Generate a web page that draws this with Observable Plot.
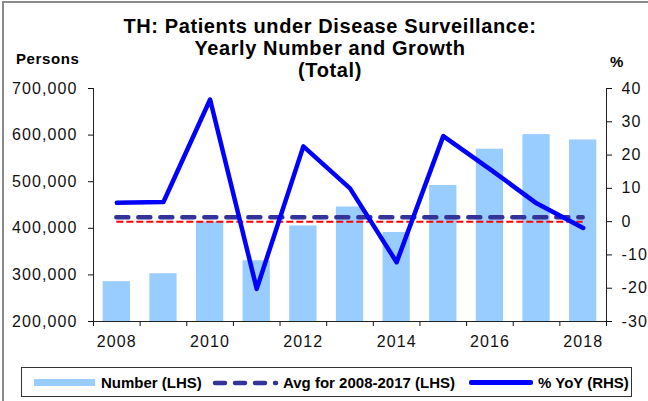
<!DOCTYPE html>
<html>
<head>
<meta charset="utf-8">
<script src="https://cdn.jsdelivr.net/npm/d3@7"></script>
<script src="https://cdn.jsdelivr.net/npm/@observablehq/plot@0.6"></script>
<style>
  html, body { margin: 0; padding: 0; background: #fff; }
  #wrap { position: relative; width: 648px; height: 401px; overflow: hidden; font-family: Arial, "Liberation Sans", sans-serif; }
  #chart { position: absolute; left: 0; top: 0; }
  #chart svg text { letter-spacing: 1.1px; }
  .frameL { position: absolute; left: 2px; top: 1px; width: 1.5px; height: 400px; background: #8a8a8a; }
  .frameT { position: absolute; left: 2px; top: 1px; width: 646px; height: 1.5px; background: #8a8a8a; }
  #title { position: absolute; left: 0; width: 660px; top: 15px; text-align: center; font-weight: bold; font-size: 20px; line-height: 22px; letter-spacing: 0.6px; color: #000; }
  .unit { position: absolute; font-weight: bold; font-size: 15px; color: #000; letter-spacing: 0.6px; }
  #legend { position: absolute; left: 21px; top: 367px; width: 611px; height: 30px; border: 1px solid #333; box-sizing: border-box; }
  .li { position: absolute; top: 0; height: 29px; line-height: 29px; font-weight: bold; font-size: 15px; color: #000; white-space: nowrap; }
  .sw { position: absolute; }
</style>
</head>
<body>
<div id="wrap">
  <div id="chart"></div>
  <div class="frameL"></div>
  <div class="frameT"></div>
  <div id="title"></div>
  <div class="unit" id="uL" style="left:16px; top:50px;"></div>
  <div class="unit" id="uR" style="left:610px; top:53px;"></div>
  <div id="legend"></div>
</div>
<script>
// ---- data ----
const years   = [2008, 2009, 2010, 2011, 2012, 2013, 2014, 2015, 2016, 2017, 2018];
const numbers = [285500, 302500, 413700, 330300, 405100, 445700, 390900, 492000, 569700, 601000, 589600];
const yoy     = [5.7, 5.9, 36.7, -20.2, 22.6, 10.0, -12.2, 25.7, 15.8, 5.5, -1.9];
const avgValue = 423600;            // Avg for 2008-2017
const zeroPct = [0];                // reference line at 0 % (RHS)
const leftTicks  = [200000, 300000, 400000, 500000, 600000, 700000];
const rightTicks = [-30, -20, -10, 0, 10, 20, 30, 40];
const xLabels = [2008, 2010, 2012, 2014, 2016, 2018];
const titleLines = ["TH: Patients under Disease Surveillance:", "Yearly Number and Growth", "(Total)"];
const unitLeft = "Persons", unitRight = "%";
const legendLabels = ["Number (LHS)", "Avg for 2008-2017 (LHS)", "% YoY (RHS)"];

// ---- scales helpers ----
const leftDomain = [leftTicks[0], leftTicks[leftTicks.length - 1]];
const rightDomain = [rightTicks[0], rightTicks[rightTicks.length - 1]];
const pctToLeft = p => leftDomain[0] + (p - rightDomain[0]) * (leftDomain[1] - leftDomain[0]) / (rightDomain[1] - rightDomain[0]);
const leftToPct = v => rightDomain[0] + (v - leftDomain[0]) * (rightDomain[1] - rightDomain[0]) / (leftDomain[1] - leftDomain[0]);

const data = years.map((year, i) => ({year, number: numbers[i], yoy: yoy[i]}));
const first = years[0], last = years[years.length - 1];
const boundaries = [...years.map(y => y - 0.5), last + 0.5];

const plot = Plot.plot({
  width: 648,
  height: 360,
  marginLeft: 93,
  marginRight: 42,
  marginTop: 88,
  marginBottom: 39,
  x: {type: "linear", domain: [first - 0.5, last + 0.5], label: null},
  y: {domain: leftDomain, label: null},
  style: {fontFamily: "Arial, 'Liberation Sans', sans-serif", fontSize: "16px", color: "#111", background: "transparent", overflow: "visible"},
  marks: [
    Plot.rectY(data, {x1: d => d.year - 0.5, x2: d => d.year + 0.5, y1: leftDomain[0], y2: "number", insetLeft: 9.7, insetRight: 9.7, fill: "#99ccff"}),
    Plot.ruleY(zeroPct, {y: d => pctToLeft(d), x1: first, x2: last, stroke: "#ff0000", strokeWidth: 2, strokeDasharray: "7,3"}),
    Plot.ruleY([avgValue], {x1: first, x2: last, stroke: "#333399", strokeWidth: 4.5, strokeDasharray: "12,10", strokeLinecap: "round"}),
    Plot.line(data, {x: "year", y: d => pctToLeft(d.yoy), stroke: "#0000ff", strokeWidth: 4.5, strokeLinejoin: "round"}),
    Plot.axisY(leftTicks, {anchor: "left", tickSize: 5, tickPadding: 11, tickFormat: d3.format(","), label: null}),
    Plot.axisY(rightTicks.map(pctToLeft), {anchor: "right", tickSize: 5, tickPadding: 10, tickFormat: v => String(Math.round(leftToPct(v))), label: null}),
    Plot.axisX(boundaries, {anchor: "bottom", tickSize: 5, tickFormat: () => "", label: null}),
    Plot.axisX(xLabels, {anchor: "bottom", tickSize: 0, tickPadding: 14, tickFormat: d => String(d), label: null}),
    Plot.ruleX([first - 0.5, last + 0.5], {stroke: "#222", strokeWidth: 1}),
    Plot.ruleY([leftDomain[0]], {stroke: "#222", strokeWidth: 1})
  ]
});
document.getElementById("chart").appendChild(plot);

// ---- text ----
document.getElementById("title").innerHTML = titleLines.map(t => `<div>${t}</div>`).join("");
document.getElementById("uL").textContent = unitLeft;
document.getElementById("uR").textContent = unitRight;

// ---- legend ----
const lg = document.getElementById("legend");
const o = 21; // legend box left in page coords
lg.innerHTML = `
  <div class="sw" style="left:${33-o}px; top:11px; width:61px; height:7px; background:#99ccff;"></div>
  <div class="li" style="left:${100-o}px;">${legendLabels[0]}</div>
  <svg class="sw" style="left:${211-o}px; top:10px;" width="68" height="10"><line x1="3" x2="64" y1="5" y2="5" stroke="#333399" stroke-width="4.5" stroke-dasharray="10,10" stroke-linecap="round"/></svg>
  <div class="li" style="left:${282-o}px;">${legendLabels[1]}</div>
  <div class="sw" style="left:${468-o}px; top:12px; width:64px; height:4.5px; background:#0000ff; border-radius:2px;"></div>
  <div class="li" style="left:${537-o}px;">${legendLabels[2]}</div>
`;
</script>
</body>
</html>
